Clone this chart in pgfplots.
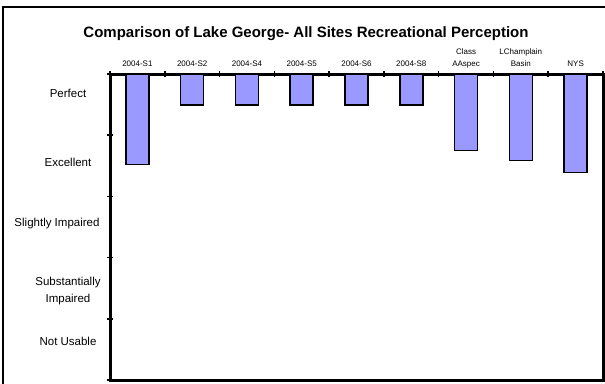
\documentclass[border=0pt]{standalone}
\usepackage{fontspec}
\setmainfont{Liberation Sans}
\usepackage{pgfplots}
\pgfplotsset{compat=1.18}
\definecolor{barblue}{HTML}{9999FF}
\begin{document}
\begin{tikzpicture}[x=1pt,y=1pt]
\useasboundingbox (0,0) rectangle (605,383);
\draw[line width=1.2pt] (3,-2) -- (3,376) -- (607,376);
\node[font=\bfseries\fontsize{15}{17}\selectfont] at (306,349) {Comparison of Lake George- All Sites Recreational Perception};
\begin{axis}[at={(110pt,3pt)}, anchor=south west, scale only axis,
  width=493pt, height=306pt,
  xmin=0.5, xmax=9.5, ymin=0, ymax=5, y dir=reverse,
  ybar, bar width=23pt, bar shift=0pt,
  axis line style={line width=3pt},
  xtick={1,...,9},
  xticklabels={{\strut 2004-S1},{\strut 2004-S2},{\strut 2004-S4},{\strut 2004-S5},{\strut 2004-S6},{\strut 2004-S8},{Class\\\strut AAspec},{LChamplain\\\strut Basin},{\strut NYS}},
  xtick pos=upper, xticklabel pos=upper,
  xticklabel style={align=center, font=\fontsize{8}{12}\selectfont},
  minor xtick={0.5,1.5,...,9.5},
  ytick={0.31,1.44,2.45,3.54,4.37},
  yticklabels={Perfect,Excellent,{\hspace*{-22pt}Slightly Impaired},{Substantially\\Impaired},Not Usable},
  ytick pos=left,
  yticklabel style={align=center, anchor=center, xshift=-42pt, font=\fontsize{11.5}{17}\selectfont},
  minor ytick={0,1,...,5},
  major tick length=0pt, minor tick length=6pt, tick align=center,
  minor tick style={line width=1.5pt, black},
]
\addplot[fill=barblue, draw=black, line width=1.5pt] coordinates {
(1,1.48) (2,0.51) (3,0.51) (4,0.51) (5,0.51) (6,0.51) (7,1.25) (8,1.41) (9,1.61)};
\end{axis}
\end{tikzpicture}
\end{document}
